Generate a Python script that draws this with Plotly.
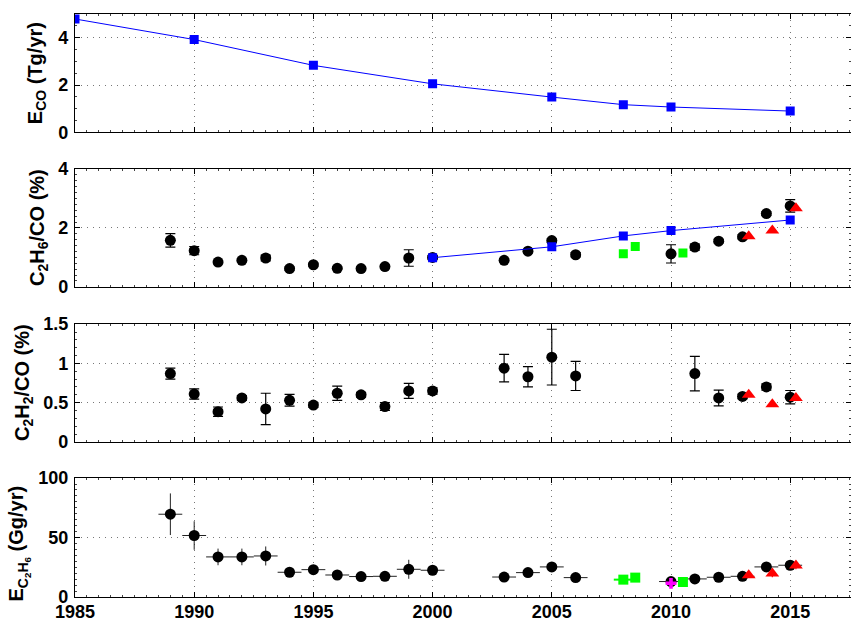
import plotly.graph_objects as go

# ---- Data ----
eco_years = [1985, 1990, 1995, 2000, 2005, 2008, 2010, 2015]
eco_vals = [4.79, 3.92, 2.83, 2.05, 1.49, 1.17, 1.07, 0.90]

obs_years = [1989, 1990, 1991, 1992, 1993, 1994, 1995, 1996, 1997, 1998, 1999, 2000,
             2003, 2004, 2005, 2006, 2010, 2011, 2012, 2013, 2014, 2015]
c2h6_ratio = [1.58, 1.23, 0.84, 0.90, 0.98, 0.62, 0.75, 0.63, 0.62, 0.69, 0.98, 1.00,
              0.90, 1.21, 1.57, 1.09, 1.12, 1.35, 1.55, 1.70, 2.49, 2.75]
c2h6_ratio_err = [0.23, 0.14, 0.05, 0.05, 0.10, 0.05, 0.05, 0.04, 0.04, 0.04, 0.28, 0.05,
                  0.05, 0.06, 0.06, 0.07, 0.31, 0.10, 0.06, 0.07, 0.06, 0.21]

c2h2_years = [1989, 1990, 1991, 1992, 1993, 1994, 1995, 1996, 1997, 1998, 1999, 2000,
              2003, 2004, 2005, 2006, 2011, 2012, 2013, 2014, 2015]
c2h2_ratio = [0.87, 0.61, 0.385, 0.56, 0.42, 0.53, 0.47, 0.62, 0.60, 0.45, 0.65, 0.65,
              0.94, 0.83, 1.08, 0.84, 0.87, 0.56, 0.58, 0.70, 0.57]
c2h2_ratio_err = [0.07, 0.065, 0.06, 0.03, 0.20, 0.075, 0.03, 0.09, 0.03, 0.05, 0.095, 0.04,
                  0.175, 0.13, 0.355, 0.185, 0.22, 0.10, 0.03, 0.04, 0.085]

model_years = [2000, 2005, 2008, 2010, 2015]
model_ratio = [0.99, 1.36, 1.73, 1.91, 2.27]

green_years = [2008.0, 2008.5, 2010.5]
green_ratio = [1.12, 1.37, 1.15]
green_ratio_err = [0.12, 0.0, 0.0]
green_emis = [14.6, 16.3, 12.6]
green_emis_xerr = [0.4, 0.0, 0.0]

red_years = [2013.26, 2014.25, 2015.24]
red_c2h6 = [1.72, 1.91, 2.67]
red_c2h2 = [0.60, 0.48, 0.56]
red_emis = [18.3, 19.7, 26.4]
red_emis_err = [2.0, 3.0, 3.0]

emis_vals = [69.6, 51.7, 33.7, 33.7, 34.5, 20.8, 23.0, 18.5, 17.2, 17.4, 23.3, 22.5,
             16.8, 20.5, 25.3, 16.3, 13.0, 15.2, 16.6, 17.4, 25.3, 26.7]
emis_err = [17.5, 12.0, 7.0, 7.0, 8.0, 3.0, 3.0, 2.5, 2.5, 2.5, 8.0, 3.0,
            2.5, 3.0, 4.0, 2.5, 2.0, 2.5, 2.5, 2.5, 3.0, 3.0]
emis_xerr = [0.5] * len(obs_years)

magenta_year = [2010.0]
magenta_emis = [11.5]

x_ticks = [1985, 1990, 1995, 2000, 2005, 2010, 2015]

panel_titles = ["E<sub>CO</sub> (Tg/yr)",
                "C<sub>2</sub>H<sub>6</sub>/CO (%)",
                "C<sub>2</sub>H<sub>2</sub>/CO (%)",
                "E<sub>C<sub>2</sub>H<sub>6</sub></sub> (Gg/yr)"]

# ---- Figure ----
fig = go.Figure()
BLK = "black"
circ = dict(color=BLK, size=11, symbol="circle")

# Panel 1
fig.add_trace(go.Scatter(x=eco_years, y=eco_vals, mode="lines+markers",
                         line=dict(color="#0000ff", width=1),
                         marker=dict(color="#0000ff", size=9, symbol="square"),
                         xaxis="x", yaxis="y"))
# Panel 2
fig.add_trace(go.Scatter(x=obs_years, y=c2h6_ratio, mode="markers", marker=circ,
                         error_y=dict(type="data", array=c2h6_ratio_err, color=BLK, thickness=1.2, width=5),
                         xaxis="x2", yaxis="y2"))
fig.add_trace(go.Scatter(x=model_years, y=model_ratio, mode="lines+markers",
                         line=dict(color="#0000ff", width=1),
                         marker=dict(color="#0000ff", size=9, symbol="square"),
                         xaxis="x2", yaxis="y2"))
fig.add_trace(go.Scatter(x=green_years, y=green_ratio, mode="markers",
                         marker=dict(color="#00ff00", size=9, symbol="square"),
                         error_y=dict(type="data", array=green_ratio_err, color="#00ff00", thickness=1.5, width=0),
                         xaxis="x2", yaxis="y2"))
fig.add_trace(go.Scatter(x=red_years, y=red_c2h6, mode="markers",
                         marker=dict(color="#ff0000", size=12, symbol="triangle-up"),
                         xaxis="x2", yaxis="y2"))
# Panel 3
fig.add_trace(go.Scatter(x=c2h2_years, y=c2h2_ratio, mode="markers", marker=circ,
                         error_y=dict(type="data", array=c2h2_ratio_err, color=BLK, thickness=1.2, width=5),
                         xaxis="x3", yaxis="y3"))
fig.add_trace(go.Scatter(x=red_years, y=red_c2h2, mode="markers",
                         marker=dict(color="#ff0000", size=12, symbol="triangle-up"),
                         xaxis="x3", yaxis="y3"))
# Panel 4
fig.add_trace(go.Scatter(x=obs_years, y=emis_vals, mode="markers", marker=circ,
                         error_y=dict(type="data", array=emis_err, color="#222222", thickness=1, width=0),
                         error_x=dict(type="data", array=emis_xerr, color="#222222", thickness=1, width=0),
                         xaxis="x4", yaxis="y4"))
fig.add_trace(go.Scatter(x=green_years, y=green_emis, mode="markers",
                         marker=dict(color="#00ff00", size=10, symbol="square"),
                         error_x=dict(type="data", array=green_emis_xerr, color="#00ff00", thickness=2, width=0),
                         xaxis="x4", yaxis="y4"))
fig.add_trace(go.Scatter(x=magenta_year, y=magenta_emis, mode="markers",
                         marker=dict(color="#ff00ff", size=9, symbol="cross"),
                         xaxis="x4", yaxis="y4"))
fig.add_trace(go.Scatter(x=red_years, y=red_emis, mode="markers",
                         marker=dict(color="#ff0000", size=12, symbol="triangle-up"),
                         error_y=dict(type="data", array=red_emis_err, color="#ff0000", thickness=1.2, width=0),
                         xaxis="x4", yaxis="y4"))

FONT = "Liberation Sans, Arial, sans-serif"
tickfont = dict(family=FONT, size=18, color="black", weight="bold")
titlefont = dict(family=FONT, size=20, color="black", weight="bold")
GRIDDASH = "1px,5px"

def xax(show, anchor):
    return dict(range=[1985, 2017.55], tickvals=x_ticks, showticklabels=show,
                ticks="inside", ticklen=5, tickcolor="black", mirror="ticks",
                showline=True, linecolor="black", linewidth=1.2,
                showgrid=True, gridcolor="#777777", griddash=GRIDDASH, gridwidth=1,
                zeroline=False, tickfont=tickfont, anchor=anchor,
                minor=dict(ticks="inside", ticklen=2, dtick=0.5, tickcolor="#444444", showgrid=False))

def yax(rng, vals, texts, dom, anchor):
    return dict(range=rng, tickvals=vals, ticktext=texts, domain=dom,
                ticks="inside", ticklen=5, tickcolor="black", mirror="ticks",
                showline=True, linecolor="black", linewidth=1.2,
                showgrid=True, gridcolor="#777777", griddash=GRIDDASH, gridwidth=1,
                zeroline=False, tickfont=tickfont, anchor=anchor, ticklabelstandoff=2,
                minor=dict(ticks="inside", ticklen=2, nticks=5, tickcolor="#444444", showgrid=False))

domains = [[0.797, 1.0], [0.532, 0.734], [0.266, 0.468], [0.0, 0.204]]
title_px = [36, 39, 23, 19]   # title centre, pixels from left edge of page
title_yshift = [0, 0, 0, -6]
PLOT_LEFT = 75

annotations = []
for i in range(4):
    annotations.append(dict(text=panel_titles[i], xref="paper", yref="paper",
                            x=0, y=(domains[i][0] + domains[i][1]) / 2,
                            xanchor="center", yanchor="middle", textangle=-90,
                            xshift=title_px[i] - PLOT_LEFT, yshift=title_yshift[i],
                            showarrow=False, font=titlefont))

fig.update_layout(
    width=851, height=621, showlegend=False,
    paper_bgcolor="white", plot_bgcolor="white",
    margin=dict(l=PLOT_LEFT, r=0, t=14, b=24),
    xaxis=xax(False, "y"),
    xaxis2=xax(False, "y2"),
    xaxis3=xax(False, "y3"),
    xaxis4=xax(True, "y4"),
    yaxis=yax([0, 5], [0, 2, 4], ["0", "2", "4"], domains[0], "x"),
    yaxis2=yax([0, 4], [0, 2, 4], ["0", "2", "4"], domains[1], "x2"),
    yaxis3=yax([0, 1.5], [0, 0.5, 1, 1.5], ["0", "0.5", "1", "1.5"], domains[2], "x3"),
    yaxis4=yax([0, 100], [0, 50, 100], ["0", "50", "100"], domains[3], "x4"),
    annotations=annotations,
)
fig.update_layout(xaxis4=dict(ticklabelstandoff=-2))

fig.write_html("out.html")
